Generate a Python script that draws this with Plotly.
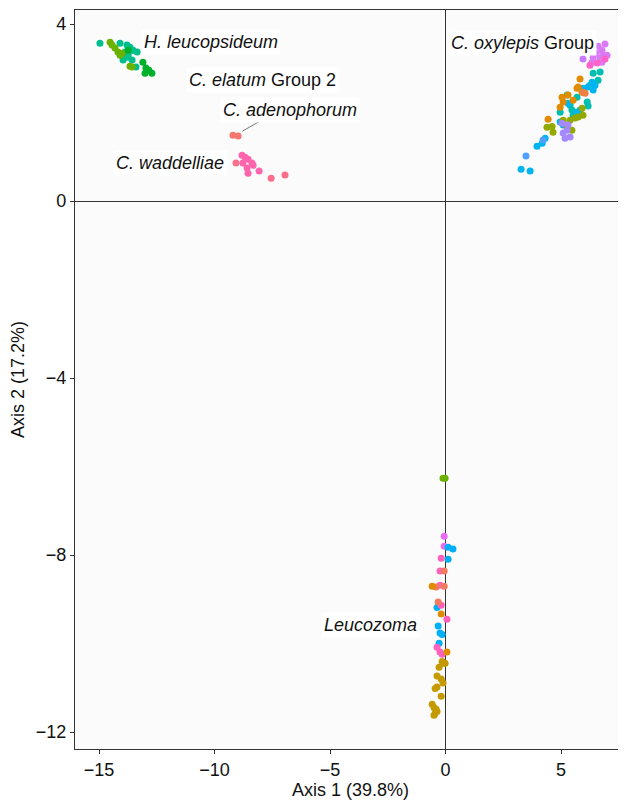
import plotly.graph_objects as go

# ---- data (Axis 1, Axis 2) per population ----
hl_teal_x = [-14.96, -14.09, -13.79, -13.66, -13.57, -13.53, -13.35, -13.87, -13.74, -13.96, -13.57, -13.40, -13.79]
hl_teal_y = [3.57, 3.57, 3.53, 3.48, 3.41, 3.41, 3.37, 3.37, 3.30, 3.19, 3.19, 3.03, 3.25]
hl_olive_x = [-14.52, -14.44, -14.31, -14.18, -14.00, -14.09, -13.66, -13.57]
hl_olive_y = [3.59, 3.53, 3.46, 3.37, 3.34, 3.30, 3.05, 3.03]
hl_green_x = [-13.10, -12.97, -12.84, -12.71, -13.01, -12.92, -13.74]
hl_green_y = [3.14, 3.01, 2.96, 2.89, 2.89, 2.94, 3.41]

aden_x = [-9.20, -8.98]
aden_y = [1.49, 1.47]

wad_pink_x = [-8.81, -8.68, -8.55, -8.38, -8.33, -8.77, -8.59, -8.55, -8.07]
wad_pink_y = [1.04, 0.99, 0.95, 0.86, 0.81, 0.86, 0.75, 0.63, 0.68]
wad_salmon_x = [-9.07, -7.55, -6.95]
wad_salmon_y = [0.86, 0.52, 0.59]

ox_magenta_x = [6.90, 6.60, 6.77, 6.52, 6.82, 6.39, 6.69, 6.34, 6.77, 6.99]
ox_magenta_y = [3.55, 3.50, 3.41, 3.34, 3.30, 3.25, 3.23, 3.14, 3.14, 3.30]
ox_violet_x = [5.95]
ox_violet_y = [3.21]
ox_pink_x = [6.25, 6.56, 6.90]
ox_pink_y = [3.07, 3.12, 3.21]
ox_teal_x = [6.39, 6.69, 6.60, 6.25, 6.13, 6.17, 5.39, 5.47, 5.52, 4.96, 5.69, 5.26]
ox_teal_y = [2.89, 2.92, 2.73, 2.62, 2.24, 2.15, 2.17, 2.06, 1.94, 2.01, 2.35, 2.40]
ox_cyan_x = [6.34, 6.47, 6.39, 6.17, 5.95, 5.69, 5.82, 5.30, 4.96, 5.09, 4.31, 4.18, 3.96, 3.27, 3.66]
ox_cyan_y = [2.69, 2.62, 2.51, 2.58, 2.55, 2.01, 2.06, 2.21, 1.79, 1.72, 1.42, 1.31, 1.24, 0.72, 0.68]
ox_orange_x = [5.82, 5.74, 5.91, 5.69, 5.30, 5.04, 5.09, 4.96, 5.52, 4.44]
ox_orange_y = [2.76, 2.58, 2.46, 2.55, 2.40, 2.35, 2.24, 2.12, 2.28, 1.85]
ox_rust_x = [5.95, 6.04]
ox_rust_y = [2.46, 2.44]
ox_olive_x = [4.39, 4.61, 4.65, 5.09, 5.39, 5.61, 5.74, 5.95, 5.47, 5.26, 5.91]
ox_olive_y = [1.67, 1.69, 1.56, 1.83, 1.83, 1.88, 1.90, 1.94, 1.60, 1.67, 2.10]
ox_lav_x = [5.09, 5.17, 5.39, 5.30, 5.04, 5.26]
ox_lav_y = [1.54, 1.42, 1.45, 1.72, 1.76, 1.60]
ox_blue_x = [3.48, 4.22]
ox_blue_y = [1.02, 1.38]

lz_olive_x = [-0.11, -0.02]
lz_olive_y = [-6.26, -6.26]
lz_magenta_x = [-0.06, -0.06]
lz_magenta_y = [-7.57, -7.80]
lz_cyan_x = [0.11, 0.32, 0.11, -0.37, -0.32, -0.24, -0.15, -0.28]
lz_cyan_y = [-7.82, -7.86, -8.09, -9.18, -9.60, -9.76, -9.79, -9.99]
lz_pink_x = [-0.19, -0.24, -0.24, -0.19, 0.06, -0.37, -0.24, -0.15]
lz_pink_y = [-8.07, -8.36, -8.68, -9.13, -9.45, -10.08, -10.19, -10.24]
lz_salmon_x = [-0.06, -0.06, -0.41, -0.32]
lz_salmon_y = [-8.36, -8.70, -8.72, -9.06]
lz_orange_x = [-0.58, -0.19, 0.06]
lz_orange_y = [-8.70, -9.33, -10.19]
lz_mustard_x = [-0.15, -0.02, -0.28, -0.11, -0.37, -0.19, -0.11, -0.37, -0.45, -0.19,
                -0.58, -0.50, -0.41, -0.45, -0.37, -0.50]
lz_mustard_y = [-10.40, -10.44, -10.53, -10.44, -10.73, -10.80, -10.89, -10.98, -11.01, -11.19,
                -11.37, -11.44, -11.48, -11.57, -11.53, -11.62]

populations = [
    (hl_teal_x, hl_teal_y, "#00BF8C"),
    (hl_olive_x, hl_olive_y, "#6BB100"),
    (hl_green_x, hl_green_y, "#00B02A"),
    (aden_x, aden_y, "#F8766D"),
    (wad_pink_x, wad_pink_y, "#FF65AE"),
    (wad_salmon_x, wad_salmon_y, "#FB6F8A"),
    (ox_magenta_x, ox_magenta_y, "#D97BF5"),
    (ox_violet_x, ox_violet_y, "#C77CFF"),
    (ox_pink_x, ox_pink_y, "#FF61C9"),
    (ox_teal_x, ox_teal_y, "#00BFB0"),
    (ox_cyan_x, ox_cyan_y, "#00B4EF"),
    (ox_orange_x, ox_orange_y, "#E08B00"),
    (ox_rust_x, ox_rust_y, "#EE8044"),
    (ox_olive_x, ox_olive_y, "#94A900"),
    (ox_lav_x, ox_lav_y, "#A58AFF"),
    (ox_blue_x, ox_blue_y, "#4FA0FF"),
    (lz_olive_x, lz_olive_y, "#6BB100"),
    (lz_magenta_x, lz_magenta_y, "#E76BF3"),
    (lz_cyan_x, lz_cyan_y, "#00B0F6"),
    (lz_pink_x, lz_pink_y, "#FF62BC"),
    (lz_salmon_x, lz_salmon_y, "#F47A5E"),
    (lz_orange_x, lz_orange_y, "#DE8C00"),
    (lz_mustard_x, lz_mustard_y, "#C49A00"),
]

x_ticks = [-15, -10, -5, 0, 5]
y_ticks = [4, 0, -4, -8, -12]

fig = go.Figure()
for xs, ys, col in populations:
    fig.add_trace(go.Scatter(x=xs, y=ys, mode="markers",
                             marker=dict(size=7, color=col, line=dict(width=0)),
                             showlegend=False, hoverinfo="skip"))

# leader line for C. adenophorum
fig.add_shape(type="line", x0=-8.8, y0=1.58, x1=-8.03, y1=1.81,
              line=dict(color="#555555", width=0.8), layer="above")

FAM = "Liberation Sans, Arial, sans-serif"
lab_font = dict(family=FAM, size=18, color="#111111")
labels = [
    ("<i>H. leucopsideum</i>", -13.2, 3.59, "left"),
    ("<i>C. elatum</i> Group 2", -7.94, 2.73, "center"),
    ("<i>C. adenophorum</i>", -6.73, 2.06, "center"),
    ("<i>C. waddelliae</i>", -9.45, 0.86, "right"),
    ("<i>C. oxylepis</i> Group", 0.12, 3.57, "left"),
    ("<i>Leucozoma</i>", -3.27, -9.58, "center"),
]
for txt, lx, ly, anc in labels:
    fig.add_annotation(x=lx, y=ly, text=txt, showarrow=False, xanchor=anc, yanchor="middle",
                       font=lab_font, bgcolor="white", borderpad=2)

tick_font = dict(family=FAM, size=18, color="#111111")
fig.update_layout(
    width=618, height=792,
    margin=dict(l=67, r=0, t=2, b=51),
    paper_bgcolor="white",
    plot_bgcolor="#FBFBFB",
    font=dict(family=FAM, size=18, color="#111111"),
    xaxis=dict(range=[-16.04, 7.81], tickvals=x_ticks, showgrid=False,
               zeroline=True, zerolinecolor="#333333", zerolinewidth=1,
               showline=True, linecolor="#333333", linewidth=1.3, mirror=True,
               ticks="outside", ticklen=4, tickcolor="#333333", tickfont=tick_font,
               title=dict(text="Axis 1 (39.8%)", font=tick_font, standoff=6)),
    yaxis=dict(range=[-12.38, 4.32], tickvals=y_ticks, showgrid=False,
               zeroline=True, zerolinecolor="#333333", zerolinewidth=1,
               showline=True, linecolor="#333333", linewidth=1.3,
               ticks="outside", ticklen=4, tickcolor="#333333", tickfont=tick_font,
               title=dict(text="Axis 2 (17.2%)", font=tick_font, standoff=8)),
)

fig.write_html("out.html")
